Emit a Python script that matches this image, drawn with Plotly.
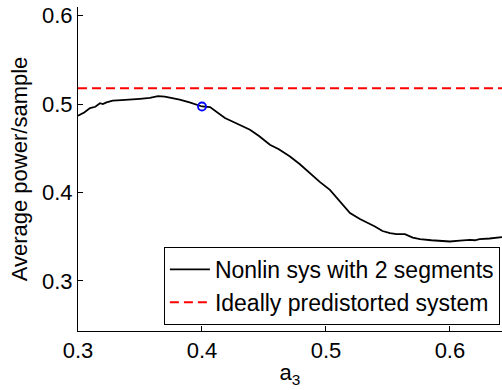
import plotly.graph_objects as go

a3 = [0.300, 0.305, 0.3097, 0.314, 0.3177, 0.320, 0.323, 0.328, 0.335, 0.342,
      0.350, 0.358, 0.3645, 0.370, 0.376, 0.382, 0.390, 0.396, 0.400, 0.4065,
      0.412, 0.4185, 0.425, 0.4387, 0.446, 0.4548, 0.462, 0.471, 0.479, 0.487,
      0.495, 0.5032, 0.5113, 0.5194, 0.5274, 0.5335, 0.5395, 0.5456, 0.5516, 0.557,
      0.5637, 0.570, 0.5758, 0.585, 0.592, 0.600, 0.608, 0.616, 0.620, 0.624,
      0.632, 0.642]
power = [0.4868, 0.4905, 0.4955, 0.497, 0.501, 0.500, 0.502, 0.504, 0.5045, 0.5049,
         0.506, 0.507, 0.509, 0.5085, 0.507, 0.505, 0.502, 0.499, 0.4973, 0.4966,
         0.491, 0.4842, 0.480, 0.471, 0.464, 0.454, 0.449, 0.4407, 0.432, 0.422,
         0.412, 0.403, 0.390, 0.3767, 0.370, 0.366, 0.3615, 0.3565, 0.354, 0.353,
         0.353, 0.349, 0.3473, 0.346, 0.3455, 0.3446, 0.3455, 0.3465, 0.346, 0.3473,
         0.348, 0.3495]
ideal_level = 0.518
marker_x = [0.4]
marker_y = [0.4973]
x_range = [0.3, 0.642]
y_range = [0.2434, 0.6098]
x_ticks = [0.3, 0.4, 0.5, 0.6]
y_ticks = [0.3, 0.4, 0.5, 0.6]

FONT = "Liberation Sans, Arial, sans-serif"

fig = go.Figure()
fig.add_trace(go.Scatter(x=a3, y=power, mode="lines",
                         line=dict(color="black", width=1.8),
                         name="Nonlin sys with 2 segments"))
fig.add_trace(go.Scatter(x=x_range, y=[ideal_level, ideal_level], mode="lines",
                         line=dict(color="red", width=2, dash="9px,5px"),
                         name="Ideally predistorted system"))
fig.add_trace(go.Scatter(x=marker_x, y=marker_y, mode="markers",
                         marker=dict(symbol="circle-open", size=8, color="blue",
                                     line=dict(width=1.8, color="blue")),
                         showlegend=False))

fig.update_layout(
    width=502, height=390,
    margin=dict(l=78, r=0, t=7, b=59),
    paper_bgcolor="white", plot_bgcolor="white",
    font=dict(family=FONT, size=22, color="black"),
    showlegend=True,
    legend=dict(x=0.995, xanchor="right", y=0.0185, yanchor="bottom",
                bordercolor="black", borderwidth=1, bgcolor="white",
                font=dict(family=FONT, size=23, color="black"),
                itemwidth=40, tracegroupgap=0),
    xaxis=dict(range=x_range, tickvals=x_ticks, ticktext=[str(v) for v in x_ticks],
               showgrid=False, zeroline=False, showline=True, linecolor="black",
               linewidth=1, ticks="inside", ticklen=5, tickcolor="black",
               mirror=False, tickfont=dict(size=22),
               title=dict(text="a<sub>3</sub>", font=dict(size=22), standoff=2)),
    yaxis=dict(range=y_range, tickvals=y_ticks, ticktext=[str(v) for v in y_ticks],
               showgrid=False, zeroline=False, showline=True, linecolor="black",
               linewidth=1, ticks="inside", ticklen=5, tickcolor="black",
               mirror=False, tickfont=dict(size=22),
               title=dict(text="Average power/sample", font=dict(size=22), standoff=8)),
)

fig.write_html("out.html")
